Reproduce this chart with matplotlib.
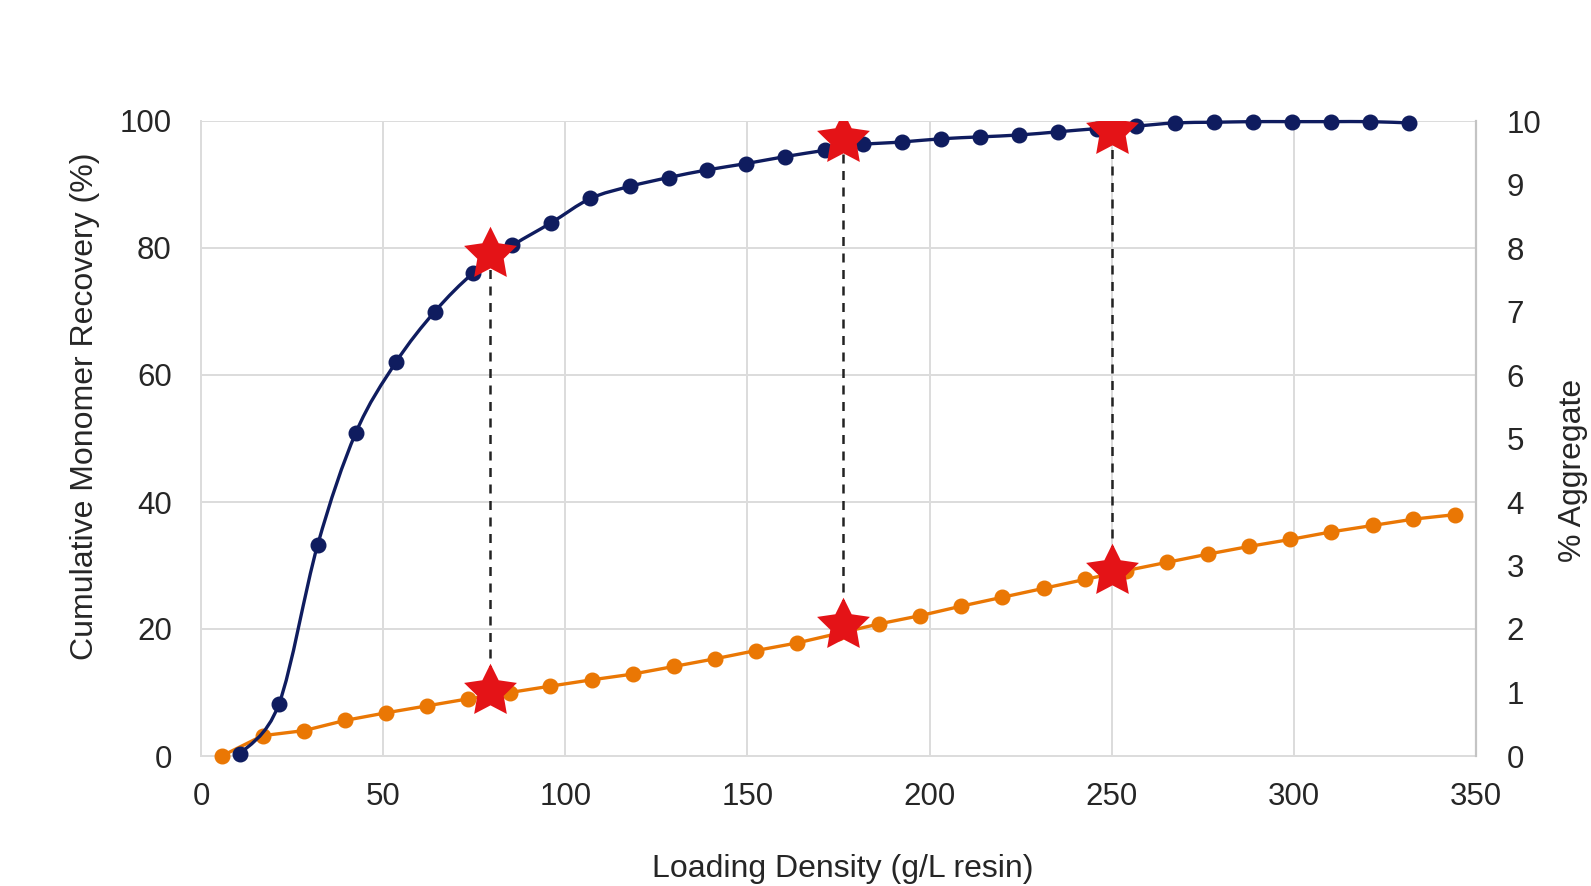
import numpy as np
import matplotlib
matplotlib.use("Agg")
import matplotlib.pyplot as plt
from matplotlib.path import Path
from matplotlib.patches import PathPatch

plt.rcParams['font.family'] = ['Liberation Sans', 'DejaVu Sans']

# ---- data ----
recovery_x = [10.7, 21.4, 32.0, 42.5, 53.5, 64.2, 74.8, 85.5, 96.2, 106.9, 117.7,
              128.4, 139.0, 149.7, 160.4, 171.4, 181.7, 192.5, 203.2, 213.9, 224.6,
              235.3, 245.9, 256.7, 267.4, 278.1, 288.8, 299.4, 310.1, 320.8, 331.5]
recovery_y = [0.3, 8.2, 33.2, 50.9, 62.0, 70.0, 76.1, 80.4, 84.0, 87.8, 89.7,
              91.1, 92.3, 93.3, 94.4, 95.4, 96.3, 96.7, 97.2, 97.5, 97.8,
              98.3, 98.8, 99.2, 99.7, 99.8, 99.9, 99.9, 99.9, 99.9, 99.7]

aggregate_x = [5.7, 16.9, 28.3, 39.5, 50.8, 62.1, 73.3, 84.8, 95.9, 107.3, 118.5,
               129.8, 141.0, 152.3, 163.6, 174.9, 186.1, 197.4, 208.7, 220.0, 231.3,
               242.6, 254.0, 265.2, 276.5, 287.7, 299.0, 310.3, 321.6, 332.8, 344.1]
aggregate_y = [0.00, 0.32, 0.40, 0.56, 0.68, 0.79, 0.90, 1.00, 1.10, 1.20, 1.29,
               1.41, 1.53, 1.66, 1.78, 1.93, 2.08, 2.21, 2.36, 2.50, 2.64,
               2.78, 2.92, 3.05, 3.18, 3.30, 3.41, 3.53, 3.63, 3.73, 3.80]

star_x = [79.3, 176.2, 250.0]
star_recovery = [79.0, 97.1, 98.5]
star_aggregate = [1.03, 2.06, 2.92]

x_ticks = [0, 50, 100, 150, 200, 250, 300, 350]
left_ticks = [0, 20, 40, 60, 80, 100]
right_ticks = [0, 1, 2, 3, 4, 5, 6, 7, 8, 9, 10]

NAVY = '#0f1c5f'
ORANGE = '#ea7704'
RED = '#e41317'
GRID = '#dcdcdc'
TXT = '#262626'


def smooth_path(xs, ys, t=1.0 / 6.0):
    """Cubic Bezier (Catmull-Rom style, like Excel smoothed lines) through the points."""
    xs = np.asarray(xs, float)
    ys = np.asarray(ys, float)
    n = len(xs)
    verts = [(xs[0], ys[0])]
    codes = [Path.MOVETO]
    for i in range(n - 1):
        p0 = np.array([xs[max(i - 1, 0)], ys[max(i - 1, 0)]])
        p1 = np.array([xs[i], ys[i]])
        p2 = np.array([xs[i + 1], ys[i + 1]])
        p3 = np.array([xs[min(i + 2, n - 1)], ys[min(i + 2, n - 1)]])
        c1 = p1 + (p2 - p0) * t
        c2 = p2 - (p3 - p1) * t
        verts += [tuple(c1), tuple(c2), tuple(p2)]
        codes += [Path.CURVE4] * 3
    return Path(verts, codes)


def fat_star(inner=0.5):
    ang = np.pi / 2 + np.arange(10) * np.pi / 5
    r = np.where(np.arange(10) % 2 == 0, 1.0, inner)
    v = np.column_stack([r * np.cos(ang), r * np.sin(ang)])
    v = np.vstack([v, v[:1]])
    codes = [Path.MOVETO] + [Path.LINETO] * 9 + [Path.CLOSEPOLY]
    return Path(v, codes)


STAR = fat_star(0.5)

fig = plt.figure(figsize=(15.91, 8.86), dpi=100)
ax = fig.add_axes([201 / 1591, 1 - 756 / 886, 1275 / 1591, 635 / 886])
ax2 = ax.twinx()

ax.set_xlim(0, 350)
ax.set_ylim(0, 100)
ax2.set_ylim(0, 10)

ax.set_xticks(x_ticks)
ax.set_yticks(left_ticks)
ax2.set_yticks(right_ticks)

ax.grid(True, color=GRID, linewidth=1.4)
ax.set_axisbelow(True)

for a in (ax, ax2):
    for s in a.spines.values():
        s.set_visible(False)
ax.spines['left'].set_visible(True)
ax.spines['left'].set_color(GRID)
ax.spines['left'].set_linewidth(1.4)
ax.spines['bottom'].set_visible(True)
ax.spines['bottom'].set_color(GRID)
ax.spines['bottom'].set_linewidth(1.4)
ax2.spines['right'].set_visible(True)
ax2.spines['right'].set_color('#c4c4c4')
ax2.spines['right'].set_linewidth(1.6)

ax.tick_params(axis='both', length=0, labelsize=22.5, colors=TXT)
ax.tick_params(axis='y', pad=21)
ax.tick_params(axis='x', pad=19)
ax2.tick_params(axis='y', length=0, labelsize=22.5, colors=TXT, pad=22)

# aggregate series (right axis)
ax2.plot(aggregate_x, aggregate_y, color=ORANGE, linewidth=2.4, marker='o',
         markersize=10.5, zorder=3, clip_on=False)

# recovery series (left axis), smoothed line
patch = PathPatch(smooth_path(recovery_x, recovery_y), facecolor='none',
                  edgecolor=NAVY, linewidth=2.4, zorder=4, clip_on=False)
ax2.add_patch(patch)
patch.set_transform(ax.transData)
ax2.plot(recovery_x, recovery_y, linestyle='none', marker='o', color=NAVY,
         markersize=10.5, zorder=5, transform=ax.transData, clip_on=False)

# dashed connectors and stars
for sx, sr, sa in zip(star_x, star_recovery, star_aggregate):
    ax2.plot([sx, sx], [sa, sr / 10.0], color='#222222', linestyle=(0, (3.6, 3.0)),
             linewidth=1.8, zorder=6)
ax2.plot(star_x, star_aggregate, linestyle='none', marker=STAR, color=RED,
         markersize=40, zorder=7, markeredgewidth=0)
ax2.plot(star_x, [v / 10.0 for v in star_recovery], linestyle='none', marker=STAR,
         color=RED, markersize=40, zorder=7, markeredgewidth=0)

ax.set_xlabel('Loading Density (g/L resin)', fontsize=23, color=TXT)
ax.set_ylabel('Cumulative Monomer Recovery (%)', fontsize=23, color=TXT)
ax2.set_ylabel('% Aggregate', fontsize=23, color=TXT, rotation=90)
ax.xaxis.set_label_coords(0.5035, -0.154)
ax.yaxis.set_label_coords(-0.079, 0.551)
ax2.yaxis.set_label_coords(1.064, 0.45)

fig.savefig('out.png', dpi=100, facecolor='white')
